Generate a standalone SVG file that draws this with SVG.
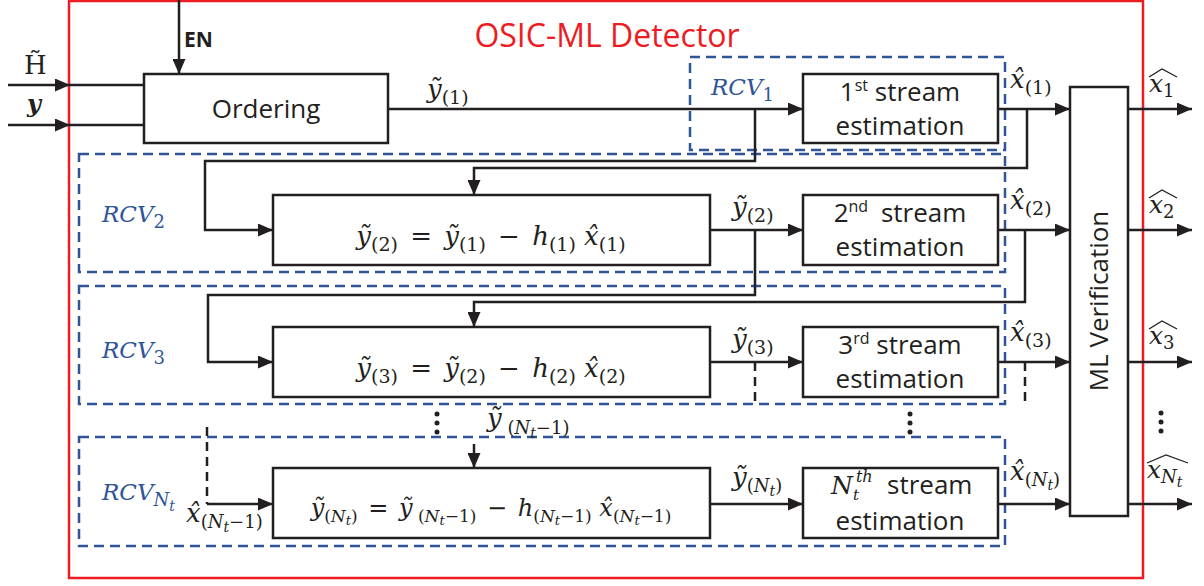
<svg xmlns="http://www.w3.org/2000/svg" width="1204" height="586" viewBox="0 0 1204 586">
<defs>
<style>
.box{fill:#fff;stroke:#231f20;stroke-width:2.5}
.ln{fill:none;stroke:#231f20;stroke-width:2.5}
.kd{fill:none;stroke:#231f20;stroke-width:2.5;stroke-dasharray:9 6}
.bd{fill:none;stroke:#2f5597;stroke-width:2.5;stroke-dasharray:10 6}
.sans{font-family:"Open Sans","Liberation Sans",sans-serif;fill:#231f20}
.m{font-family:"DejaVu Serif","Liberation Serif",serif;font-style:italic;fill:#231f20}
.up{font-style:normal}
.blue{fill:#2f5597}
.ctr{text-anchor:middle}
</style>
<marker id="ah" markerWidth="15" markerHeight="13" refX="15" refY="6.5" orient="auto" markerUnits="userSpaceOnUse">
<path d="M0,0 L15,6.5 L0,13 z" fill="#231f20"/>
</marker>
</defs>
<rect width="1204" height="586" fill="#fff"/>
<rect x="69" y="1" width="1074" height="577" fill="none" stroke="#ed1c24" stroke-width="2.5"/>
<text class="sans" x="607" y="47" font-size="32" text-anchor="middle" style="fill:#ed1c24">OSIC-ML Detector</text>

<!-- RCV dashed regions -->
<g id="rcv1"><rect class="bd" x="690" y="57" width="315" height="93"/>
<text class="m blue" x="711" y="95" font-size="23">RCV<tspan class="up" font-size="18" dy="6">1</tspan></text></g>
<g id="rcv2"><rect class="bd" x="79" y="154" width="926" height="118"/>
<text class="m blue" x="102" y="222" font-size="23">RCV<tspan class="up" font-size="18" dy="6">2</tspan></text></g>
<g id="rcv3"><rect class="bd" x="79" y="286" width="926" height="118"/>
<text class="m blue" x="102" y="358" font-size="23">RCV<tspan class="up" font-size="18" dy="6">3</tspan></text></g>
<g id="rcvnt"><rect class="bd" x="79" y="437" width="926" height="109"/>
<text class="m blue" x="102" y="500" font-size="23">RCV<tspan font-size="18" dy="6">N</tspan><tspan font-size="14" dy="5">t</tspan></text></g>

<!-- connectors -->
<g id="connectors">
<path class="ln" d="M8,85 H70" marker-end="url(#ah)"/>
<path class="ln" d="M70,85 H144"/>
<path class="ln" d="M8,125 H70" marker-end="url(#ah)"/>
<path class="ln" d="M70,125 H144"/>
<path class="ln" d="M179,0 V74" marker-end="url(#ah)"/>
<path class="ln" d="M388,109 H803" marker-end="url(#ah)"/>
<path class="ln" d="M755,109 V161 H205 V230 H273" marker-end="url(#ah)"/>
<path class="ln" d="M998,109 H1070" marker-end="url(#ah)"/>
<path class="ln" d="M1027,109 V168 H474 V195" marker-end="url(#ah)"/>
<path class="ln" d="M710,230 H803" marker-end="url(#ah)"/>
<path class="ln" d="M755,230 V295 H208 V362 H273" marker-end="url(#ah)"/>
<path class="ln" d="M998,230 H1070" marker-end="url(#ah)"/>
<path class="ln" d="M1025,230 V302 H474 V327" marker-end="url(#ah)"/>
<path class="ln" d="M710,362 H803" marker-end="url(#ah)"/>
<path class="ln" d="M998,362 H1070" marker-end="url(#ah)"/>
<path class="kd" d="M755,362 V404"/>
<path class="kd" d="M1025,362 V404"/>
<path class="ln" d="M474,444 V468" marker-end="url(#ah)"/>
<path class="kd" d="M207,427 V504"/>
<path class="ln" d="M207,504 H273" marker-end="url(#ah)"/>
<path class="ln" d="M710,504 H803" marker-end="url(#ah)"/>
<path class="ln" d="M998,504 H1070" marker-end="url(#ah)"/>
<path class="ln" d="M1128,109 H1192" marker-end="url(#ah)"/>
<path class="ln" d="M1128,230 H1192" marker-end="url(#ah)"/>
<path class="ln" d="M1128,362 H1192" marker-end="url(#ah)"/>
<path class="ln" d="M1128,504 H1192" marker-end="url(#ah)"/>
<g fill="#231f20">
<circle cx="437" cy="414" r="2.5"/><circle cx="437" cy="423" r="2.5"/><circle cx="437" cy="432" r="2.5"/>
<circle cx="910" cy="414" r="2.5"/><circle cx="910" cy="423" r="2.5"/><circle cx="910" cy="432" r="2.5"/>
<circle cx="1161" cy="413" r="2.5"/><circle cx="1161" cy="422" r="2.5"/><circle cx="1161" cy="431" r="2.5"/>
</g>
</g>

<!-- input / signal labels -->
<g id="labels">
<text class="m up" x="24" y="74" font-size="26">H̃</text>
<text class="m" x="27" y="112" font-size="24" font-weight="bold">y</text>
<text class="sans" x="184" y="47" font-size="21" font-weight="bold">EN</text>
<text class="m" x="427" y="98" font-size="26">ỹ<tspan class="up" font-size="19" dy="6">(1)</tspan></text>
<text class="m" x="1010" y="88" font-size="26">x̂<tspan class="up" font-size="19" dy="6">(1)</tspan></text>
<text class="m" x="732" y="216" font-size="26">ỹ<tspan class="up" font-size="19" dy="6">(2)</tspan></text>
<text class="m" x="1010" y="209" font-size="26">x̂<tspan class="up" font-size="19" dy="6">(2)</tspan></text>
<text class="m" x="732" y="348" font-size="26">ỹ<tspan class="up" font-size="19" dy="6">(3)</tspan></text>
<text class="m" x="1010" y="341" font-size="26">x̂<tspan class="up" font-size="19" dy="6">(3)</tspan></text>
<text class="m" x="487" y="427" font-size="26">ỹ<tspan class="up" font-size="18" dy="7"> (</tspan><tspan font-size="18">N</tspan><tspan font-size="14" dy="4">t</tspan><tspan class="up" font-size="18" dy="-4">−1)</tspan></text>
<text class="m" x="732" y="486" font-size="26">ỹ<tspan class="up" font-size="18" dy="6">(</tspan><tspan font-size="18">N</tspan><tspan font-size="14" dy="4">t</tspan><tspan class="up" font-size="18" dy="-4">)</tspan></text>
<text class="m" x="1010" y="480" font-size="26">x̂<tspan class="up" font-size="18" dy="6">(</tspan><tspan font-size="18">N</tspan><tspan font-size="14" dy="4">t</tspan><tspan class="up" font-size="18" dy="-4">)</tspan></text>
<text class="m" x="186" y="522" font-size="26">x̂<tspan class="up" font-size="18" dy="6">(</tspan><tspan font-size="18">N</tspan><tspan font-size="14" dy="4">t</tspan><tspan class="up" font-size="18" dy="-4">−1)</tspan></text>
<text class="m" x="1149" y="92" font-size="25">x<tspan class="up" font-size="18" dy="5">1</tspan></text>
<text class="m" x="1149" y="213" font-size="25">x<tspan class="up" font-size="18" dy="5">2</tspan></text>
<text class="m" x="1149" y="344" font-size="25">x<tspan class="up" font-size="18" dy="5">3</tspan></text>
<text class="m" x="1147" y="478" font-size="25">x<tspan font-size="18" dy="5">N</tspan><tspan font-size="14" dy="4">t</tspan></text>
<g class="ln" style="stroke-width:1.3">
<polyline points="1149,77 1162,69 1177,77"/>
<polyline points="1149,198 1162,190 1177,198"/>
<polyline points="1149,329 1162,321 1177,329"/>
<polyline points="1147,463 1166,455 1188,463"/>
</g>
</g>

<g id="ordering"><rect class="box" x="144" y="74" width="244" height="69"/>
<text class="sans ctr" x="266" y="118" font-size="26">Ordering</text></g>

<g id="stream1"><rect class="box" x="803" y="74" width="195" height="69"/>
<text class="sans ctr" x="900" y="101" font-size="26">1<tspan font-size="16" dy="-10">st</tspan><tspan dy="10"> stream</tspan></text>
<text class="sans ctr" x="900" y="135" font-size="26">estimation</text></g>

<g id="sub2"><rect class="box" x="273" y="195" width="437" height="70"/>
<text class="m ctr" x="491" y="245" font-size="26">ỹ<tspan class="up" font-size="19" dy="6">(2)</tspan><tspan class="up" dy="-6" dx="4"> = </tspan><tspan dx="4">ỹ</tspan><tspan class="up" font-size="19" dy="6">(1)</tspan><tspan class="up" dy="-6" dx="4"> − </tspan><tspan dx="4">h</tspan><tspan class="up" font-size="19" dy="6">(1)</tspan><tspan dy="-6"> x̂</tspan><tspan class="up" font-size="19" dy="6">(1)</tspan></text></g>
<g id="stream2"><rect class="box" x="803" y="195" width="195" height="70"/>
<text class="sans ctr" x="900" y="222" font-size="26">2<tspan font-size="16" dy="-10">nd</tspan><tspan dy="10" dx="6"> stream</tspan></text>
<text class="sans ctr" x="900" y="256" font-size="26">estimation</text></g>

<g id="sub3"><rect class="box" x="273" y="327" width="437" height="70"/>
<text class="m ctr" x="491" y="377" font-size="26">ỹ<tspan class="up" font-size="19" dy="6">(3)</tspan><tspan class="up" dy="-6" dx="4"> = </tspan><tspan dx="4">ỹ</tspan><tspan class="up" font-size="19" dy="6">(2)</tspan><tspan class="up" dy="-6" dx="4"> − </tspan><tspan dx="4">h</tspan><tspan class="up" font-size="19" dy="6">(2)</tspan><tspan dy="-6"> x̂</tspan><tspan class="up" font-size="19" dy="6">(2)</tspan></text></g>
<g id="stream3"><rect class="box" x="803" y="327" width="195" height="70"/>
<text class="sans ctr" x="900" y="354" font-size="26">3<tspan font-size="16" dy="-10">rd</tspan><tspan dy="10"> stream</tspan></text>
<text class="sans ctr" x="900" y="388" font-size="26">estimation</text></g>

<g id="subnt"><rect class="box" x="273" y="468" width="437" height="70"/>
<text class="m ctr" x="491" y="516" font-size="24">ỹ<tspan class="up" font-size="17" dy="6">(</tspan><tspan font-size="17">N</tspan><tspan font-size="13" dy="3">t</tspan><tspan class="up" font-size="17" dy="-3">)</tspan><tspan class="up" dy="-6" dx="3"> = </tspan><tspan dx="3">ỹ</tspan><tspan class="up" font-size="17" dy="6"> (</tspan><tspan font-size="17">N</tspan><tspan font-size="13" dy="3">t</tspan><tspan class="up" font-size="17" dy="-3">−1)</tspan><tspan class="up" dy="-6" dx="3"> − </tspan><tspan dx="3">h</tspan><tspan class="up" font-size="17" dy="6">(</tspan><tspan font-size="17">N</tspan><tspan font-size="13" dy="3">t</tspan><tspan class="up" font-size="17" dy="-3">−1)</tspan><tspan dy="-6"> x̂</tspan><tspan class="up" font-size="17" dy="6">(</tspan><tspan font-size="17">N</tspan><tspan font-size="13" dy="3">t</tspan><tspan class="up" font-size="17" dy="-3">−1)</tspan></text></g>
<g id="streamnt"><rect class="box" x="803" y="468" width="195" height="70"/>
<text class="m" x="831" y="494" font-size="25">N<tspan font-size="15" dy="6">t</tspan><tspan font-size="16" dx="-3" dy="-18">th</tspan><tspan class="sans up" font-size="26" x="887" dy="12">stream</tspan></text>
<text class="sans ctr" x="900" y="530" font-size="26">estimation</text></g>

<g id="mlver"><rect class="box" x="1070" y="87" width="58" height="429"/>
<text class="sans ctr" transform="translate(1108,301) rotate(-90)" font-size="26">ML Verification</text></g>
</svg>
